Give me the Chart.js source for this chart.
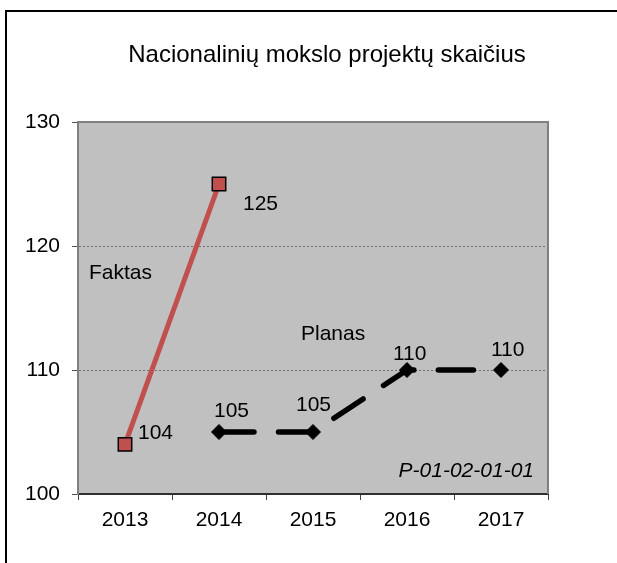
<!DOCTYPE html>
<html>
<head>
<meta charset="utf-8">
<script src="https://cdn.jsdelivr.net/npm/chart.js@4/dist/chart.umd.min.js"></script>
<style>
  html, body { margin: 0; padding: 0; background: #fff; }
  #wrap { width: 617px; height: 563px; }
</style>
</head>
<body>
<div id="wrap"><canvas id="projektaiChart" width="617" height="563"></canvas></div>
<script>
const metai = ['2013', '2014', '2015', '2016', '2017'];
const faktas = [104, 125, null, null, null];
const planas = [null, 105, 105, 110, 110];
const yMin = 100;
const yMax = 130;
const yStep = 10;

const pavadinimas = 'Nacionalinių mokslo projektų skaičius';
const kodas = 'P-01-02-01-01';

const FONT = "'Liberation Sans', Arial, sans-serif";

// label offsets from each point (px, left edge / middle), per dataset
const labelOffsets = [
  [[13, -11], [24, 20]],
  [[-5, -21], [-17, -27], [-14, -16], [-10, -20]]
];

const decorPlugin = {
  id: 'decor',
  beforeDraw(chart) {
    const { ctx, chartArea: a } = chart;
    ctx.save();
    ctx.fillStyle = '#C0C0C0';
    ctx.fillRect(a.left, a.top, a.right - a.left, a.bottom - a.top);
    ctx.restore();
  },
  beforeDatasetsDraw(chart) {
    const { ctx, chartArea: a } = chart;
    ctx.save();
    ctx.strokeStyle = '#808080';
    ctx.lineWidth = 2;
    ctx.beginPath();
    ctx.moveTo(a.left, a.top);
    ctx.lineTo(a.right, a.top);
    ctx.lineTo(a.right, a.bottom);
    ctx.stroke();
    ctx.restore();
  },
  afterDraw(chart) {
    const { ctx, chartArea: a } = chart;
    ctx.save();
    // outer frame
    ctx.strokeStyle = '#000';
    ctx.lineWidth = 2;
    ctx.strokeRect(6, 11, 800, 800);

    ctx.fillStyle = '#000';
    ctx.textBaseline = 'alphabetic';
    ctx.textAlign = 'center';
    ctx.font = '24px ' + FONT;
    ctx.fillText(pavadinimas, 327, 62);

    ctx.textAlign = 'left';
    ctx.textBaseline = 'middle';
    ctx.font = '21px ' + FONT;
    ctx.fillText('Faktas', a.left + 11, 273);
    ctx.fillText('Planas', a.left + 223, 334);

    ctx.textAlign = 'right';
    ctx.font = 'italic 21px ' + FONT;
    ctx.fillText(kodas, a.right - 14, 471);

    // value labels
    ctx.textAlign = 'left';
    ctx.font = '21px ' + FONT;
    chart.data.datasets.forEach((ds, di) => {
      const meta = chart.getDatasetMeta(di);
      let k = 0;
      ds.data.forEach((v, i) => {
        if (v === null) return;
        const p = meta.data[i];
        const off = labelOffsets[di][k++] || [0, -20];
        ctx.fillText(String(v), p.x + off[0], p.y + off[1]);
      });
    });
    ctx.restore();
  }
};

const ctx = document.getElementById('projektaiChart').getContext('2d');

new Chart(ctx, {
  type: 'line',
  data: {
    labels: metai,
    datasets: [
      {
        label: 'Faktas',
        data: faktas,
        borderColor: '#C0504D',
        borderWidth: 5,
        pointStyle: 'rect',
        pointRadius: 9.5,
        pointBackgroundColor: '#C0504D',
        pointBorderColor: '#000',
        pointBorderWidth: 1.5,
        tension: 0
      },
      {
        label: 'Planas',
        data: planas,
        borderColor: '#000',
        borderWidth: 5.5,
        borderDash: [35, 24.5],
        borderCapStyle: 'round',
        borderJoinStyle: 'round',
        pointStyle: 'rectRot',
        pointRadius: 7.5,
        pointBackgroundColor: '#000',
        pointBorderColor: '#000',
        pointBorderWidth: 1,
        tension: 0
      }
    ]
  },
  options: {
    responsive: false,
    animation: false,
    events: [],
    layout: {
      padding: { top: 122, right: 69, left: 0, bottom: 0 }
    },
    plugins: {
      legend: { display: false },
      title: { display: false },
      tooltip: { enabled: false }
    },
    scales: {
      x: {
        offset: true,
        afterFit(scale) { scale.height = 69; },
        grid: {
          offset: true,
          drawOnChartArea: false,
          tickLength: 6,
          tickColor: '#404040',
          tickWidth: 1
        },
        border: { color: '#303030', width: 2 },
        ticks: {
          color: '#000',
          font: { family: FONT, size: 21 },
          padding: 8
        }
      },
      y: {
        min: yMin,
        max: yMax,
        afterFit(scale) { scale.width = 78; },
        grid: {
          color: c => (c.tick && c.tick.value > yMin && c.tick.value < yMax) ? '#707070' : 'rgba(0,0,0,0)',
          lineWidth: 1,
          tickLength: 6,
          tickColor: '#505050',
          tickWidth: 1
        },
        border: { color: '#808080', width: 2, dash: [2, 2] },
        ticks: {
          stepSize: yStep,
          color: '#000',
          font: { family: FONT, size: 21 },
          padding: 12
        }
      }
    }
  },
  plugins: [decorPlugin]
});
</script>
</body>
</html>
